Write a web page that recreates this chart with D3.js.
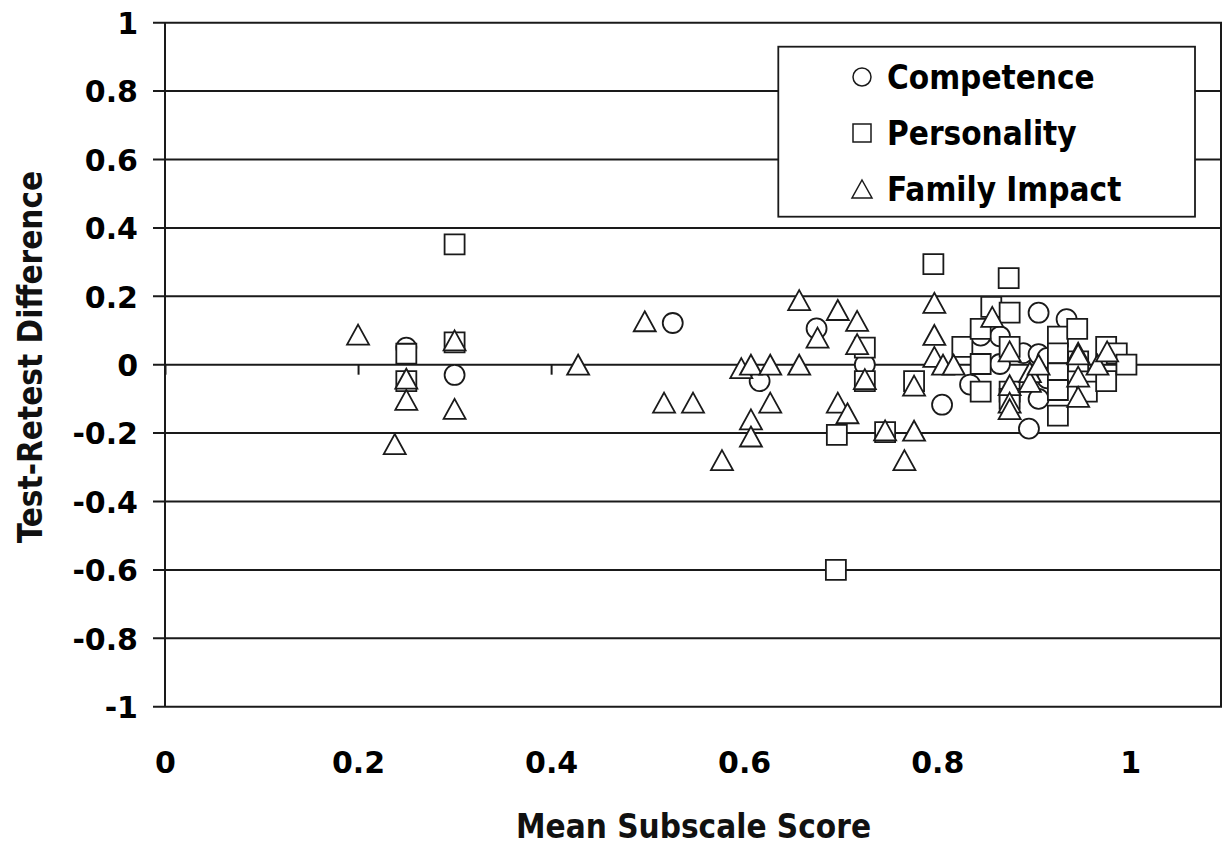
<!DOCTYPE html>
<html>
<head>
<meta charset="utf-8">
<script src="https://cdn.jsdelivr.net/npm/d3@7/dist/d3.min.js"></script>
<style>
  html, body { margin: 0; padding: 0; background: #fff; }
  svg { display: block; }
  .tick-label { font-family: "DejaVu Sans", Verdana, sans-serif; font-weight: bold; font-size: 30px; fill: #000; }
  .title { font-family: "DejaVu Sans Condensed", "DejaVu Sans", sans-serif; font-stretch: condensed; font-weight: bold; font-size: 33px; fill: #111; }
  .legend-text { font-family: "DejaVu Sans Condensed", "DejaVu Sans", sans-serif; font-stretch: condensed; font-weight: bold; font-size: 33px; fill: #000; }
</style>
</head>
<body>
<svg id="chart" width="1223" height="846"></svg>
<script>
// Mean subscale score (x) vs. test-retest difference (y), one array per subscale
const competence = [
  [0.25, 0.05], [0.30, -0.03], [0.526, 0.122], [0.616, -0.048], [0.675, 0.106],
  [0.725, 0.0], [0.805, -0.117], [0.834, -0.058], [0.845, 0.085], [0.865, 0.083],
  [0.865, 0.002], [0.889, 0.034], [0.895, -0.187], [0.905, 0.152], [0.905, 0.031],
  [0.905, -0.10], [0.914, 0.02], [0.914, -0.04], [0.934, 0.133]
];
const personality = [
  [0.25, 0.032], [0.25, -0.048], [0.30, 0.352], [0.30, 0.065], [0.696, -0.205],
  [0.695, -0.60], [0.725, 0.05], [0.725, -0.048], [0.746, -0.197], [0.776, -0.048],
  [0.796, 0.294], [0.826, 0.052], [0.845, 0.105], [0.845, 0.002], [0.845, -0.079],
  [0.856, 0.169], [0.874, 0.253], [0.875, 0.152], [0.875, 0.052], [0.875, -0.079],
  [0.875, -0.10], [0.925, 0.082], [0.925, 0.033], [0.925, -0.025], [0.925, -0.074],
  [0.925, -0.149], [0.945, 0.105], [0.946, 0.01], [0.955, -0.079], [0.975, 0.052],
  [0.975, -0.048], [0.986, 0.033], [0.996, 0.0]
];
const familyImpact = [
  [0.20, 0.088], [0.25, -0.041], [0.25, -0.103], [0.238, -0.232], [0.30, 0.071],
  [0.30, -0.129], [0.428, 0.0], [0.497, 0.127], [0.517, -0.111], [0.547, -0.111],
  [0.577, -0.279], [0.597, -0.01], [0.607, 0.0], [0.607, -0.16], [0.607, -0.21],
  [0.627, 0.0], [0.627, -0.111], [0.657, 0.189], [0.657, 0.0], [0.676, 0.079],
  [0.697, 0.16], [0.697, -0.111], [0.707, -0.142], [0.717, 0.128], [0.717, 0.06],
  [0.725, -0.042], [0.746, -0.192], [0.766, -0.279], [0.776, -0.193], [0.776, -0.061],
  [0.797, 0.181], [0.797, 0.087], [0.797, 0.023], [0.806, 0.0], [0.817, 0.0],
  [0.857, 0.14], [0.875, 0.039], [0.875, -0.06], [0.875, -0.111], [0.875, -0.13],
  [0.896, -0.022], [0.896, -0.05], [0.905, 0.0], [0.946, 0.035], [0.946, 0.03],
  [0.946, -0.035], [0.946, -0.094], [0.966, 0.0], [0.976, 0.039]
];

const seriesNames = ["Competence", "Personality", "Family Impact"];
const xTicks = [0, 0.2, 0.4, 0.6, 0.8, 1];
const yTicks = [-1, -0.8, -0.6, -0.4, -0.2, 0, 0.2, 0.4, 0.6, 0.8, 1];
const xTitle = "Mean Subscale Score";
const yTitle = "Test-Retest Difference";

const svg = d3.select("#chart");
const plot = { left: 165, right: 1222, top: 22.7, bottom: 706.7 };

const x = d3.scaleLinear().domain([0, 1.095]).range([plot.left, plot.right]);
const y = d3.scaleLinear().domain([-1, 1]).range([plot.bottom, plot.top]);

const ink = "#1a1a1a";
const fmt = d => String(+d.toFixed(1)).replace("\u2212", "-");

// horizontal grid lines (they run a little past the y axis as tick marks)
svg.append("g")
  .selectAll("line")
  .data(yTicks)
  .join("line")
  .attr("x1", plot.left - 12)
  .attr("x2", plot.right)
  .attr("y1", d => y(d))
  .attr("y2", d => y(d))
  .attr("stroke", ink)
  .attr("stroke-width", 2);

// plot frame: left and right edges
svg.append("line")
  .attr("x1", plot.left).attr("x2", plot.left)
  .attr("y1", plot.top).attr("y2", plot.bottom)
  .attr("stroke", ink).attr("stroke-width", 2);
svg.append("line")
  .attr("x1", plot.right - 1).attr("x2", plot.right - 1)
  .attr("y1", plot.top).attr("y2", plot.bottom)
  .attr("stroke", ink).attr("stroke-width", 2);

// y axis labels
const yAxis = d3.axisLeft(y).tickValues(yTicks).tickSize(12).tickPadding(15).tickFormat(fmt);
const gy = svg.append("g").attr("transform", `translate(${plot.left},0)`).call(yAxis);
gy.select(".domain").remove();
gy.selectAll(".tick line").remove();
gy.selectAll(".tick text").attr("class", "tick-label").attr("font-size", null).attr("font-family", null)
  .attr("dy", "0.36em");

// x axis crosses at y = 0: short tick marks hanging below the zero line
const xAxisZero = d3.axisBottom(x).tickValues(xTicks).tickSize(10).tickFormat("");
const gx0 = svg.append("g").attr("transform", `translate(0,${y(0)})`).call(xAxisZero);
gx0.select(".domain").remove();
gx0.selectAll(".tick line").attr("stroke", ink).attr("stroke-width", 2);

// x tick labels along the bottom of the plot
const xAxisLabels = d3.axisBottom(x).tickValues(xTicks).tickSize(0).tickPadding(45).tickFormat(fmt);
const gxl = svg.append("g").attr("transform", `translate(0,${plot.bottom})`).call(xAxisLabels);
gxl.select(".domain").remove();
gxl.selectAll(".tick text").attr("class", "tick-label").attr("font-size", null).attr("font-family", null);

// axis titles
svg.append("text")
  .attr("class", "title")
  .attr("x", (517 + 870) / 2)
  .attr("y", 838)
  .attr("text-anchor", "middle")
  .text(xTitle);

svg.append("text")
  .attr("class", "title")
  .attr("transform", `translate(42,${357}) rotate(-90)`)
  .attr("text-anchor", "middle")
  .text(yTitle);

// marker shapes
const markerStyle = sel => sel.attr("fill", "#fff").attr("stroke", ink).attr("stroke-width", 1.8);
const circleSym = d3.symbol().type(d3.symbolCircle).size(Math.PI * 10 * 10);
const squareSym = d3.symbol().type(d3.symbolSquare).size(20 * 20);
function trianglePath(w, h) {
  return `M0,${-h / 2}L${w / 2},${h / 2}L${-w / 2},${h / 2}Z`;
}

const marks = svg.append("g");
// drawing order: circles, then squares, then triangles on top
marks.append("g").selectAll("path")
  .data(competence).join("path")
  .attr("d", circleSym())
  .attr("transform", d => `translate(${x(d[0])},${y(d[1])})`)
  .call(markerStyle);

marks.append("g").selectAll("path")
  .data(personality).join("path")
  .attr("d", squareSym())
  .attr("transform", d => `translate(${x(d[0])},${y(d[1])})`)
  .call(markerStyle);

marks.append("g").selectAll("path")
  .data(familyImpact).join("path")
  .attr("d", trianglePath(22, 20))
  .attr("transform", d => `translate(${x(d[0])},${y(d[1])})`)
  .call(markerStyle);

// legend
const legend = svg.append("g");
legend.append("rect")
  .attr("x", 778.3).attr("y", 46.7)
  .attr("width", 1195 - 778.3).attr("height", 216.7 - 46.7)
  .attr("fill", "#fff").attr("stroke", ink).attr("stroke-width", 1.8);

const legendRows = [
  { name: seriesNames[0], d: d3.symbol().type(d3.symbolCircle).size(Math.PI * 9 * 9)(), cy: 77 },
  { name: seriesNames[1], d: d3.symbol().type(d3.symbolSquare).size(18 * 18)(), cy: 133 },
  { name: seriesNames[2], d: trianglePath(20, 18), cy: 189 }
];
const lrow = legend.selectAll("g.row").data(legendRows).join("g").attr("class", "row");
lrow.append("path")
  .attr("d", r => r.d)
  .attr("transform", r => `translate(862,${r.cy})`)
  .attr("fill", "#fff").attr("stroke", ink).attr("stroke-width", 1.5);
lrow.append("text")
  .attr("class", "legend-text")
  .attr("x", 887)
  .attr("y", r => r.cy + 12)
  .text(r => r.name);
</script>
</body>
</html>
